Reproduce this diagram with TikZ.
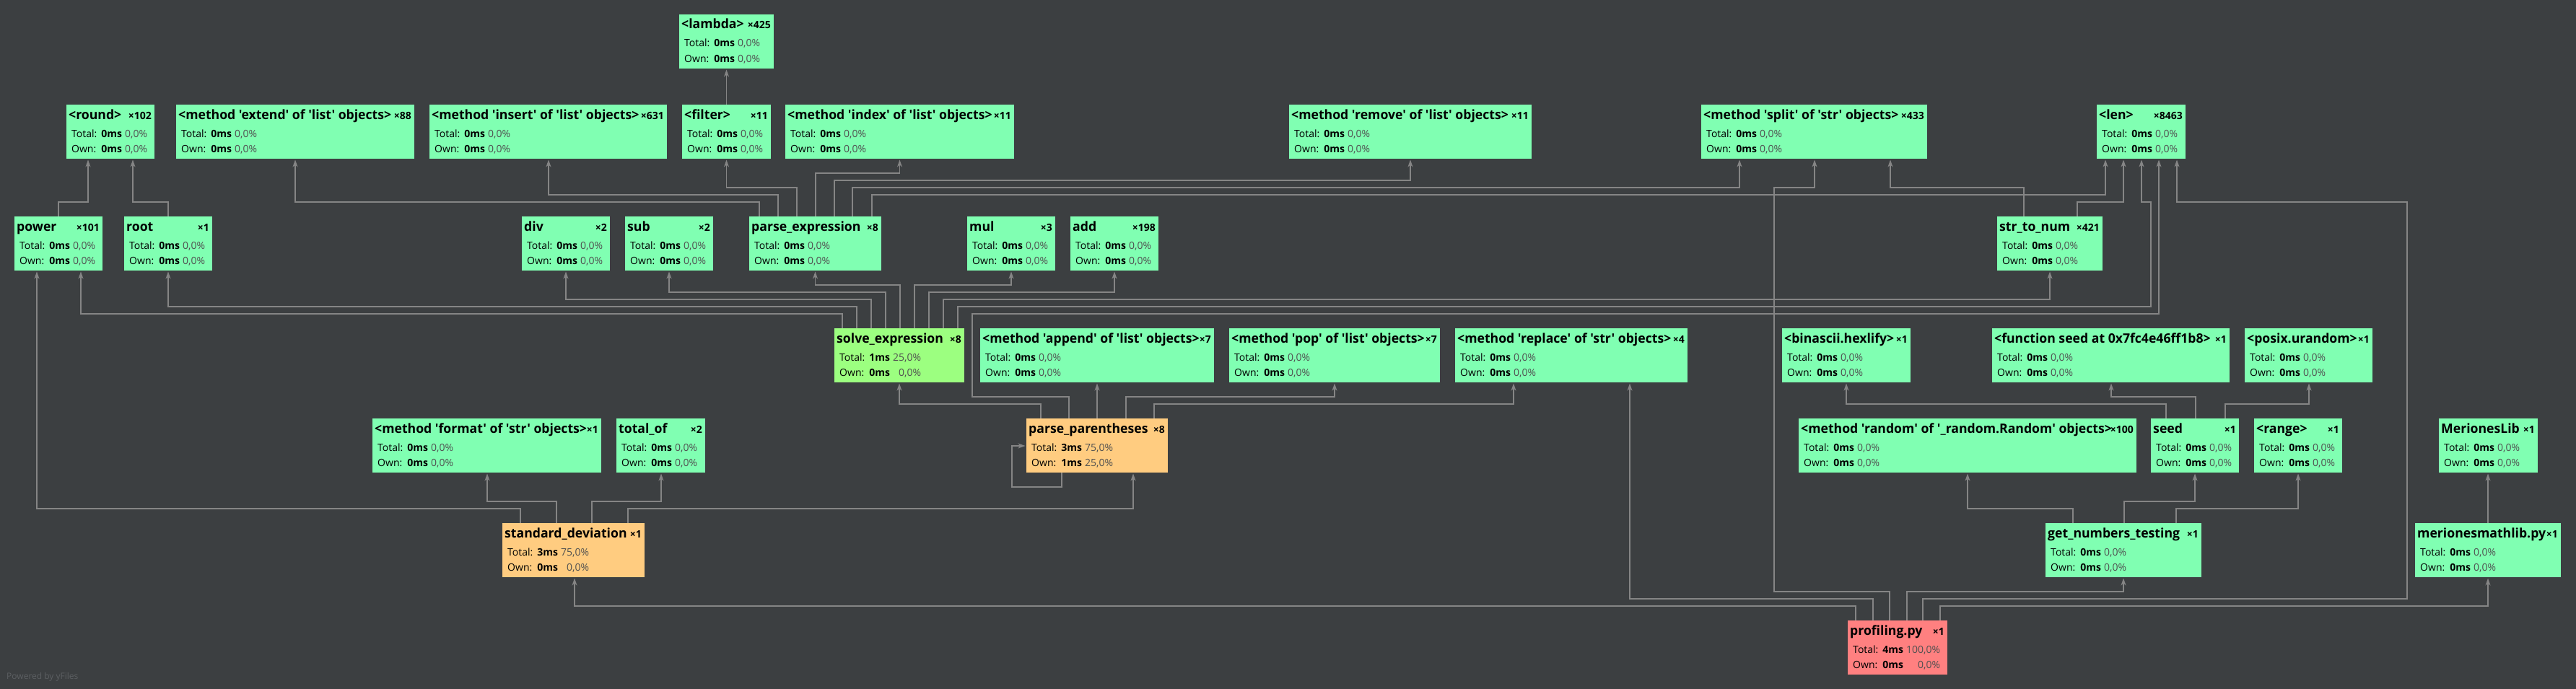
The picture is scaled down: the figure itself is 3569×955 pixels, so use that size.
\documentclass[tikz,border=0pt]{standalone}
\usepackage{fontspec}
\newfontfamily\uf{Open Sans}
\newfontfamily\uft{Open Sans}[FakeStretch=0.98]
\usetikzlibrary{arrows.meta}
\definecolor{bg}{HTML}{3C3F41}
\definecolor{cgreen}{HTML}{80FFB2}
\definecolor{sgreen}{HTML}{9CFF80}
\definecolor{corange}{HTML}{FFCC80}
\definecolor{cred}{HTML}{FF8080}
\definecolor{pctgrey}{HTML}{505050}
\definecolor{edgegrey}{HTML}{858585}
\definecolor{powgrey}{HTML}{5C5F62}
\newcommand\cgstats[4]{\begin{tabular}[t]{@{}l@{\hspace{6pt}}l@{\hspace{4pt}}r@{}}Total: & \textbf{#1} & \textcolor{pctgrey}{#2}\\ Own: & \textbf{#3} & \textcolor{pctgrey}{#4}\end{tabular}}
\newcommand\cg[8][{0ms}{0,0\%}{0ms}{0,0\%}]{%
  \node[box, fill=#6, minimum width=#5pt] (#2) at (#3,#4) {};
  \node[ttl] (#2-t) at ([xshift=3pt,yshift=-20pt]#2.north west) {#7};
  \node[cnt] (#2-c) at ([xshift=-4pt,yshift=-20pt]#2.north east) {×#8};
  \node[st] (#2-s) at ([xshift=7pt,yshift=-45pt]#2.north west) {\cgstats#1};
}
\newcommand\ed[5]{\draw[edge] (#1.north -| #2,0) |- (#4,#3) -- (#5.south -| #4,0);}
\begin{document}
\begin{tikzpicture}[x=1pt,y=-1pt,
  box/.style={inner sep=0, outer sep=0, minimum height=75pt, anchor=north west, draw=none},
  ttl/.style={inner sep=0, anchor=base west, font=\uft\bfseries\fontsize{18}{18}\selectfont, text=black},
  cnt/.style={inner sep=0, anchor=base east, font=\uf\bfseries\fontsize{14}{14}\selectfont, text=black},
  st/.style={inner sep=0, anchor=base west, font=\uf\fontsize{14}{21.7}\selectfont, text=black},
  edge/.style={draw=edgegrey, line width=1.2pt, shorten >=1.5pt, -{Stealth[length=10pt,width=7pt,inset=3pt]}},
]
\useasboundingbox (0,0) rectangle (3569,955);
\fill[bg] (0,0) rectangle (3569,955);

% row 1
\cg{lambda}{941}{20}{131}{cgreen}{<lambda>}{425}
% row 2
\cg{round}{92}{145}{122}{cgreen}{<round>}{102}
\cg{extend}{244}{145}{330}{cgreen}{<method 'extend' of 'list' objects>}{88}
\cg{insert}{595}{145}{329}{cgreen}{<method 'insert' of 'list' objects>}{631}
\cg{filter}{945}{145}{123}{cgreen}{<filter>}{11}
\cg{index}{1088}{145}{317}{cgreen}{<method 'index' of 'list' objects>}{11}
\cg{remove}{1786}{145}{336}{cgreen}{<method 'remove' of 'list' objects>}{11}
\cg{split}{2357}{145}{313}{cgreen}{<method 'split' of 'str' objects>}{433}
\cg{len}{2905}{145}{123}{cgreen}{<len>}{8463}
% row 3
\cg{power}{20}{300}{122}{cgreen}{power}{101}
\cg{root}{172}{300}{122}{cgreen}{root}{1}
\cg{div}{723}{300}{122}{cgreen}{div}{2}
\cg{sub}{866}{300}{122}{cgreen}{sub}{2}
\cg{pe}{1038}{300}{183}{cgreen}{parse\_expression}{8}
\cg{mul}{1340}{300}{122}{cgreen}{mul}{3}
\cg{add}{1483}{300}{122}{cgreen}{add}{198}
\cg{stn}{2767}{300}{146}{cgreen}{str\_to\_num}{421}
% row 4
\cg[{1ms}{25,0\%}{0ms}{0,0\%}]{se}{1156}{455}{180}{sgreen}{solve\_expression}{8}
\cg{append}{1358}{455}{324}{cgreen}{<method 'append' of 'list' objects>}{7}
\cg{pop}{1703}{455}{292}{cgreen}{<method 'pop' of 'list' objects>}{7}
\cg{replace}{2016}{455}{322}{cgreen}{<method 'replace' of 'str' objects>}{4}
\cg{binascii}{2469}{455}{178}{cgreen}{<binascii.hexlify>}{1}
\cg{fseed}{2760}{455}{329}{cgreen}{<function seed at 0x7fc4e46ff1b8>}{1}
\cg{posix}{3110}{455}{177}{cgreen}{<posix.urandom>}{1}
% row 5
\cg{format}{516}{580}{317}{cgreen}{<method 'format' of 'str' objects>}{1}
\cg{totalof}{854}{580}{123}{cgreen}{total\_of}{2}
\cg[{3ms}{75,0\%}{1ms}{25,0\%}]{pp}{1422}{580}{196}{corange}{parse\_parentheses}{8}
\cg{random}{2492}{580}{468}{cgreen}{<method 'random' of '\_random.Random' objects>}{100}
\cg{seed}{2980}{580}{122}{cgreen}{seed}{1}
\cg{range}{3123}{580}{122}{cgreen}{<range>}{1}
\cg{merlib}{3379}{580}{137}{cgreen}{MerionesLib}{1}
% row 6
\cg[{3ms}{75,0\%}{0ms}{0,0\%}]{std}{696}{725}{197}{corange}{standard\_deviation}{1}
\cg{gnt}{2834}{725}{216}{cgreen}{get\_numbers\_testing}{1}
\cg{mml}{3346}{725}{202}{cgreen}{merionesmathlib.py}{1}
% row 7
\cg[{4ms}{100,0\%}{0ms}{0,0\%}]{prof}{2560}{860}{138}{cred}{profiling.py}{1}

\node[inner sep=0, anchor=base west, font=\uf\fontsize{12}{12}\selectfont, text=powgrey] (powered) at (9,941) {Powered by yFiles};

% edges
\draw[edge] (filter.north) -- (lambda.south);
\ed{power}{81}{280}{122}{round}
\ed{root}{233}{280}{184}{round}
\ed{pe}{1052}{280}{409}{extend}
\ed{pe}{1078}{270}{760}{insert}
\ed{pe}{1104}{260}{1006.5}{filter}
\ed{pe}{1130}{240}{1246.5}{index}
\ed{pe}{1156}{250}{1954}{remove}
\ed{pe}{1181}{260}{2410}{split}
\ed{pe}{1208}{270}{2917}{len}
\ed{stn}{2804}{260}{2619}{split}
\ed{stn}{2878}{280}{2942}{len}
\ed{se}{1167}{435}{112}{power}
\ed{se}{1187}{425}{233}{root}
\ed{se}{1207}{415}{784}{div}
\ed{se}{1227}{405}{927}{sub}
\ed{se}{1247}{395}{1129.5}{pe}
\ed{se}{1267}{395}{1401}{mul}
\ed{se}{1287}{405}{1544}{add}
\ed{se}{1307}{415}{2840}{stn}
\draw[edge] (se.north -| 1327,0) |- (2980,425) |- (2967,280) -- (len.south -| 2967,0);
\ed{pp}{1442}{560}{1246}{se}
\draw[edge] (pp.north) -- (append.south);
\ed{pp}{1560}{550}{1849}{pop}
\ed{pp}{1599}{560}{2097}{replace}
\draw[edge] (pp.north -| 1481,0) |- (1347,550) |- (2991,435) -- (len.south -| 2991,0);
\draw[edge] (pp.south -| 1471,0) |- (1402,675) |- (pp.west |- 0,618);
\ed{std}{721}{705}{51}{power}
\ed{std}{771}{695}{675}{format}
\ed{std}{820}{695}{916}{totalof}
\ed{std}{870}{705}{1570}{pp}
\ed{prof}{2571}{840}{796}{std}
\ed{prof}{2595}{830}{2258}{replace}
\draw[edge] (prof.north -| 2618,0) |- (2458,820) |- (2514,260) -- (split.south -| 2514,0);
\ed{prof}{2642}{820}{2942}{gnt}
\draw[edge] (prof.north -| 2664,0) |- (3335,830) |- (3016,280) -- (len.south -| 3016,0);
\ed{prof}{2688}{840}{3447}{mml}
\ed{gnt}{2872}{705}{2726}{random}
\ed{gnt}{2943}{695}{3041}{seed}
\ed{gnt}{3015}{705}{3184}{range}
\ed{seed}{3001}{560}{2558}{binascii}
\ed{seed}{3042}{550}{2925}{fseed}
\ed{seed}{3083}{560}{3199}{posix}
\draw[edge] (mml.north -| 3447,0) -- (merlib.south -| 3447,0);
\end{tikzpicture}
\end{document}
